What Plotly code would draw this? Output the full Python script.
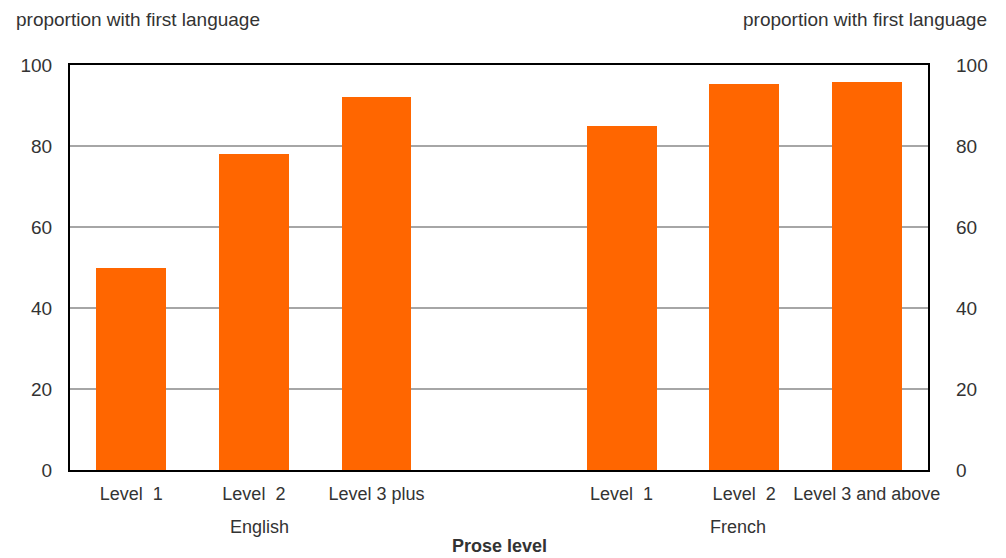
import plotly.graph_objects as go

# data
positions = [0, 1, 2, 4, 5, 6]
level_labels = ["Level  1", "Level  2", "Level 3 plus", "Level  1", "Level  2", "Level 3 and above"]
proportions = [50, 78, 92, 85, 95.3, 95.8]
groups = ["English", "French"]
group_pos = [1.05, 4.95]
y_ticks = [0, 20, 40, 60, 80, 100]

FONT = "Liberation Sans, Arial, sans-serif"
TXT = "#333333"
ORANGE = "#FF6600"
PW, PH = 865, 405  # plot area size in px

fig = go.Figure()
fig.add_trace(go.Bar(x=positions, y=proportions, width=0.57,
                     marker=dict(color=ORANGE, line_width=0), showlegend=False))
# invisible trace to carry the right-hand axis
fig.add_trace(go.Scatter(x=[positions[0]], y=[0], yaxis="y2", mode="markers",
                         marker=dict(opacity=0), showlegend=False, hoverinfo="skip"))

fig.update_layout(
    width=1006, height=558,
    margin=dict(l=55, r=86, t=57, b=96),
    paper_bgcolor="white", plot_bgcolor="white",
    font=dict(family=FONT, size=19, color=TXT),
    bargap=0,
    xaxis=dict(range=[-0.5, 6.5], tickvals=positions, ticktext=level_labels,
               showgrid=False, zeroline=False, showline=True, mirror=True,
               linecolor="black", linewidth=2, ticks="", ticklen=0,
               ticklabelstandoff=6, tickfont=dict(size=18, color=TXT)),
    yaxis=dict(range=[0, 100], tickvals=y_ticks, showgrid=True, gridcolor="#a6a6a6",
               gridwidth=2, zeroline=False, showline=True, mirror=True,
               linecolor="black", linewidth=2, ticks="", ticklabelstandoff=12,
               tickfont=dict(size=19, color=TXT)),
    yaxis2=dict(range=[0, 100], tickvals=y_ticks, overlaying="y", side="right",
                showgrid=False, zeroline=False, showline=False, ticks="",
                ticklabelstandoff=27, tickfont=dict(size=19, color=TXT)),
)

for g, p in zip(groups, group_pos):
    fig.add_annotation(x=p, y=0, xref="x", yref="paper", yanchor="middle", yshift=-57,
                       text=g, showarrow=False, font=dict(size=18, color=TXT))

fig.add_annotation(x=0.5, y=0, xref="paper", yref="paper", yanchor="middle", yshift=-76,
                   text="<b>Prose level</b>", showarrow=False,
                   font=dict(size=18, color=TXT))

fig.add_annotation(x=-56 / PW, y=1 + 45 / PH, xref="paper", yref="paper", yanchor="middle",
                   text="proportion with first language", showarrow=False, xanchor="left",
                   font=dict(size=19, color=TXT))
fig.add_annotation(x=1 + 62 / PW, y=1 + 45 / PH, xref="paper", yref="paper", yanchor="middle",
                   text="proportion with first language", showarrow=False, xanchor="right",
                   font=dict(size=19, color=TXT))

fig.write_html("out.html")
